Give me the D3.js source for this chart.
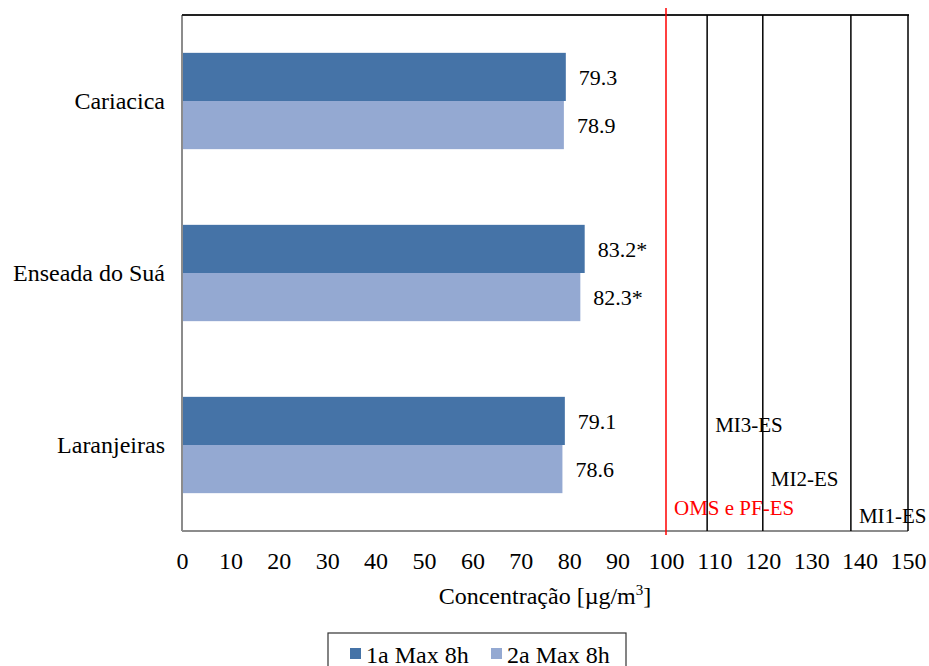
<!DOCTYPE html>
<html><head><meta charset="utf-8">
<script src="https://cdn.jsdelivr.net/npm/d3@7"></script>
<style>body{margin:0;background:#fff}svg{display:block;font-family:"Liberation Serif","Times New Roman",serif}</style>
</head><body><svg id="c" width="929" height="666"></svg>
<script>
const categories = ["Cariacica", "Enseada do Suá", "Laranjeiras"];
const seriesNames = ["1a Max 8h", "2a Max 8h"];
const max1 = [79.3, 83.2, 79.1];
const max2 = [78.9, 82.3, 78.6];
const labels1 = ["79.3", "83.2*", "79.1"];
const labels2 = ["78.9", "82.3*", "78.6"];
const xTicks = [0,10,20,30,40,50,60,70,80,90,100,110,120,130,140,150];
const refNames = ["OMS e PF-ES", "MI3-ES", "MI2-ES", "MI1-ES"];
const refValues = [100, 108.5, 120, 138.2];
const colors = ["#4573a7", "#94a9d2"];

const FONT = "Liberation Serif, Times New Roman, serif";
const svg = d3.select("#c");
const L = 182, R = 908, T = 15, B = 531;
const x = d3.scaleLinear().domain([0,150]).range([L,R]);
const y = d3.scaleBand().domain(categories).range([T,B]).paddingInner(0.44).paddingOuter(0.22);
const ys = d3.scaleBand().domain([0,1]).range([0, y.bandwidth()]);

// bars
const data = [max1, max2];
const lab = [labels1, labels2];
data.forEach((arr, si) => {
  svg.append("g").selectAll("rect").data(categories).join("rect")
    .attr("x", x(0)).attr("y", c => y(c) + ys(si))
    .attr("width", (c,i) => x(arr[i]) - x(0)).attr("height", ys.bandwidth())
    .attr("fill", colors[si]);
  svg.append("g").selectAll("text").data(categories).join("text")
    .attr("x", (c,i) => x(arr[i]) + 13).attr("y", c => y(c) + ys(si) + ys.bandwidth()/2 + 8)
    .attr("font-size", 22).attr("fill", "#000").text((c,i) => lab[si][i]);
});

// frame
svg.append("line").attr("x1", L).attr("x2", L).attr("y1", T).attr("y2", B).attr("stroke", "#8c8c8c").attr("stroke-width", 2);
svg.append("line").attr("x1", L).attr("x2", R).attr("y1", B).attr("y2", B).attr("stroke", "#8c8c8c").attr("stroke-width", 2);
svg.append("line").attr("x1", L).attr("x2", R+1).attr("y1", T).attr("y2", T).attr("stroke", "#222").attr("stroke-width", 2);
svg.append("line").attr("x1", R).attr("x2", R).attr("y1", T).attr("y2", B).attr("stroke", "#000").attr("stroke-width", 1.5);

// reference lines
const refLabelY = [515, 432, 486, 523];
refValues.forEach((v, i) => {
  const red = i === 0;
  svg.append("line").attr("x1", x(v)).attr("x2", x(v))
    .attr("y1", red ? 8 : T).attr("y2", red ? 535 : B)
    .attr("stroke", red ? "#ff0000" : "#000").attr("stroke-width", 1.5);
  svg.append("text").attr("x", x(v) + 8).attr("y", refLabelY[i])
    .attr("font-size", 21).attr("fill", red ? "#ff0000" : "#000").text(refNames[i]);
});

// x axis labels
const ax = svg.append("g").attr("transform", `translate(0,${B})`)
  .call(d3.axisBottom(x).tickValues(xTicks).tickSize(0).tickPadding(21).tickFormat(d3.format("d")));
ax.select(".domain").remove();
ax.attr("font-family", FONT).attr("font-size", 24);
ax.selectAll("text").attr("font-size", 24).attr("font-family", FONT).attr("fill", "#000");

// y axis labels
const ay = svg.append("g").attr("transform", `translate(${L},0)`)
  .call(d3.axisLeft(y).tickSize(0).tickPadding(17));
ay.select(".domain").remove();
ay.attr("font-family", FONT).attr("font-size", 24);
ay.selectAll("text").attr("font-size", 24).attr("font-family", FONT).attr("fill", "#000");

// axis title
const t = svg.append("text").attr("x", 545).attr("y", 604).attr("text-anchor", "middle").attr("font-size", 24).attr("fill", "#000");
t.append("tspan").text("Concentração [µg/m");
t.append("tspan").attr("font-size", 15).attr("dy", -9).text("3");
t.append("tspan").attr("dy", 9).text("]");

// legend
svg.append("rect").attr("x", 328).attr("y", 633).attr("width", 298).attr("height", 40)
  .attr("fill", "#fff").attr("stroke", "#333").attr("stroke-width", 1.2);
const lx = [350, 491];
seriesNames.forEach((n, i) => {
  svg.append("rect").attr("x", lx[i]).attr("y", 648).attr("width", 11).attr("height", 11).attr("fill", colors[i]);
  svg.append("text").attr("x", lx[i] + 16).attr("y", 663).attr("font-size", 24).attr("fill", "#000").text(n);
});
</script></body></html>
